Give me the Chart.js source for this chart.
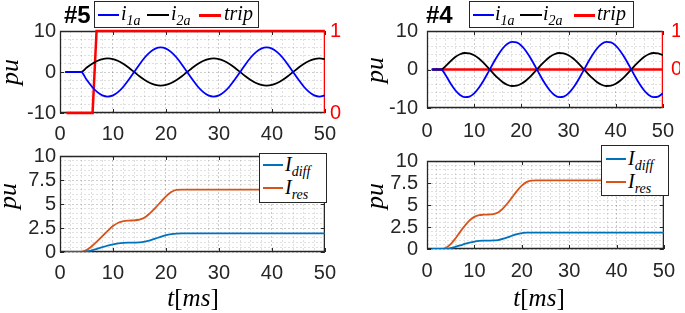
<!DOCTYPE html>
<html>
<head>
<meta charset="utf-8">
<script src="https://cdn.jsdelivr.net/npm/chart.js@4.4.1/dist/chart.umd.min.js"></script>
<style>
  html, body { margin: 0; padding: 0; background: #fff; }
  #fig { position: relative; width: 685px; height: 313px; overflow: hidden; background: #fff; }
  canvas { position: absolute; }
  .txt { position: absolute; white-space: nowrap; color: #000; }
  .math { font-family: "Liberation Serif", "DejaVu Serif", serif; font-style: italic; }
  .rm { font-style: normal; }
  .sub { font-size: 14px; position: relative; top: 5px; }
  .tag { font-family: "Liberation Sans", Arial, sans-serif; font-weight: bold; font-size: 24px; line-height: 24px; }
  .ylab { width: 40px; height: 28px; line-height: 28px; text-align: center; font-size: 26px; transform: rotate(-90deg); }
  .xlab { width: 90px; height: 28px; line-height: 28px; text-align: center; font-size: 25px; }
  .leg { position: absolute; background: #fff; border: 1px solid #262626; box-sizing: border-box; }
  .leg .ln { position: absolute; height: 2px; }
  .leg .lt { position: absolute; font-size: 20px; line-height: 20px; }
</style>
</head>
<body>
<div id="fig">
  <canvas id="cTL" width="345" height="140" style="left:0;top:0"></canvas>
  <canvas id="cTR" width="340" height="140" style="left:345px;top:0"></canvas>
  <canvas id="cBL" width="345" height="173" style="left:0;top:140px"></canvas>
  <canvas id="cBR" width="340" height="173" style="left:345px;top:140px"></canvas>

  <div class="txt tag" style="left:64px;top:3px">#5</div>
  <div class="txt tag" style="left:426px;top:3px">#4</div>

  <div class="leg" style="left:94px;top:1px;width:165px;height:27px">
    <div class="ln" style="left:3px;top:12px;width:21px;background:#0000ff"></div>
    <div class="lt math" style="left:26px;top:1px">i<span class="sub">1a</span></div>
    <div class="ln" style="left:52px;top:12px;width:22px;background:#000"></div>
    <div class="lt math" style="left:76px;top:1px">i<span class="sub">2a</span></div>
    <div class="ln" style="left:104px;top:12px;width:22px;height:3px;background:#ff0000"></div>
    <div class="lt math" style="left:129px;top:1px">trip</div>
  </div>
  <div class="leg" style="left:469px;top:1px;width:165px;height:27px">
    <div class="ln" style="left:3px;top:12px;width:21px;background:#0000ff"></div>
    <div class="lt math" style="left:25px;top:1px">i<span class="sub">1a</span></div>
    <div class="ln" style="left:50px;top:12px;width:22px;background:#000"></div>
    <div class="lt math" style="left:73px;top:1px">i<span class="sub">2a</span></div>
    <div class="ln" style="left:104px;top:12px;width:21px;height:3px;background:#ff0000"></div>
    <div class="lt math" style="left:127px;top:1px">trip</div>
  </div>

  <div class="leg" style="left:259px;top:153px;width:68px;height:50px">
    <div class="ln" style="left:3px;top:10px;width:20px;background:#0072bd"></div>
    <div class="lt math" style="left:25px;top:0px">I<span class="sub">diff</span></div>
    <div class="ln" style="left:3px;top:33px;width:20px;background:#d95319"></div>
    <div class="lt math" style="left:25px;top:23px">I<span class="sub">res</span></div>
  </div>
  <div class="leg" style="left:601px;top:145px;width:68px;height:51px">
    <div class="ln" style="left:4px;top:12px;width:20px;background:#0072bd"></div>
    <div class="lt math" style="left:26px;top:2px">I<span class="sub">diff</span></div>
    <div class="ln" style="left:4px;top:35px;width:20px;background:#d95319"></div>
    <div class="lt math" style="left:26px;top:25px">I<span class="sub">res</span></div>
  </div>

  <div class="txt math ylab" style="left:-10px;top:58px">pu</div>
  <div class="txt math ylab" style="left:-12px;top:182px">pu</div>
  <div class="txt math ylab" style="left:355px;top:56px">pu</div>
  <div class="txt math ylab" style="left:355px;top:182px">pu</div>

  <div class="txt math xlab" style="left:148px;top:284px">t<span class="rm">[</span>ms<span class="rm">]</span></div>
  <div class="txt math xlab" style="left:494px;top:284px">t<span class="rm">[</span>ms<span class="rm">]</span></div>
</div>

<script>
// time axis [ms]
const tms = [1,2,3,4,5,6,7,8,9,10,11,12,13,14,15,16,17,18,19,20,21,22,23,24,25,
  26,27,28,29,30,31,32,33,34,35,36,37,38,39,40,41,42,43,44,45,46,47,48,49,50];

// case #5 currents
const i1a5 = [0,0,0,0,-1.85,-3.53,-4.85,-5.71,-6.0,-5.71,-4.85,-3.53,-1.85,0,
  1.85,3.53,4.85,5.71,6.0,5.71,4.85,3.53,1.85,0,
  -1.85,-3.53,-4.85,-5.71,-6.0,-5.71,-4.85,-3.53,-1.85,0,
  1.85,3.53,4.85,5.71,6.0,5.71,4.85,3.53,1.85,0,
  -1.85,-3.53,-4.85,-5.71,-6.0,-5.71];
const i2a5 = [0,0,0,0,1.02,1.94,2.67,3.14,3.3,3.14,2.67,1.94,1.02,0,
  -1.02,-1.94,-2.67,-3.14,-3.3,-3.14,-2.67,-1.94,-1.02,0,
  1.02,1.94,2.67,3.14,3.3,3.14,2.67,1.94,1.02,0,
  -1.02,-1.94,-2.67,-3.14,-3.3,-3.14,-2.67,-1.94,-1.02,0,
  1.02,1.94,2.67,3.14,3.3,3.14];
const trip5T = [1.2, 6.15, 6.9, 50];
const trip5 = [0, 0, 1, 1];

// case #4 currents
const i1a4 = [0,0,0,-1.57,-3.66,-5.40,-6.61,-7.17,-7.03,-6.20,-4.76,-2.86,-0.68,
  1.57,3.66,5.40,6.61,7.17,7.03,6.20,4.76,2.86,0.68,
  -1.57,-3.66,-5.40,-6.61,-7.17,-7.03,-6.20,-4.76,-2.86,-0.68,
  1.57,3.66,5.40,6.61,7.17,7.03,6.20,4.76,2.86,0.68,
  -1.57,-3.66,-5.40,-6.61,-7.17,-7.03,-6.20];
const i2a4 = [0,0,0,0.94,2.19,3.23,3.95,4.28,4.20,3.70,2.84,1.71,0.40,
  -0.94,-2.19,-3.23,-3.95,-4.28,-4.20,-3.70,-2.84,-1.71,-0.40,
  0.94,2.19,3.23,3.95,4.28,4.20,3.70,2.84,1.71,0.40,
  -0.94,-2.19,-3.23,-3.95,-4.28,-4.20,-3.70,-2.84,-1.71,-0.40,
  0.94,2.19,3.23,3.95,4.28,4.20,3.70];
const trip4T = [1.2, 50];
const trip4 = [0, 0];

// differential / restraint currents
const idiff5 = [0,0,0,0,0.06,0.18,0.33,0.5,0.66,0.8,0.9,0.95,0.97,0.98,1.0,
  1.08,1.22,1.4,1.58,1.75,1.86,1.92,1.93,1.93,1.93,1.93,1.93,1.93,1.93,1.93,
  1.93,1.93,1.93,1.93,1.93,1.93,1.93,1.93,1.93,1.93,1.93,1.93,1.93,1.93,1.93,
  1.93,1.93,1.93,1.93,1.93];
const ires5 = [0,0,0,0.02,0.2,0.6,1.1,1.65,2.2,2.7,3.05,3.22,3.27,3.3,3.38,
  3.6,4.05,4.6,5.2,5.8,6.25,6.48,6.5,6.5,6.5,6.5,6.5,6.5,6.5,6.5,
  6.5,6.5,6.5,6.5,6.5,6.5,6.5,6.5,6.5,6.5,6.5,6.5,6.5,6.5,6.5,
  6.5,6.5,6.5,6.5,6.5];
const idiff4 = [0,0,0,0.02,0.1,0.24,0.4,0.57,0.72,0.84,0.92,0.95,0.96,0.97,1.02,
  1.14,1.32,1.52,1.69,1.8,1.85,1.86,1.86,1.86,1.86,1.86,1.86,1.86,1.86,1.86,
  1.86,1.86,1.86,1.86,1.86,1.86,1.86,1.86,1.86,1.86,1.86,1.86,1.86,1.86,1.86,
  1.86,1.86,1.86,1.86,1.86];
const ires4 = [0,0,0,0.15,0.55,1.2,1.95,2.65,3.25,3.65,3.85,3.9,3.92,3.96,4.15,
  4.6,5.2,5.9,6.6,7.2,7.6,7.78,7.8,7.8,7.8,7.8,7.8,7.8,7.8,7.8,
  7.8,7.8,7.8,7.8,7.8,7.8,7.8,7.8,7.8,7.8,7.8,7.8,7.8,7.8,7.8,
  7.8,7.8,7.8,7.8,7.8];

// tick labels
const xLabels = [0, 10, 20, 30, 40, 50];
const yTopLabels = [-10, 0, 10];
const yBotLabels = [0, 2.5, 5, 7.5, 10];

Chart.defaults.font.family = '"Liberation Sans", Arial, sans-serif';
Chart.defaults.animation = false;

const tickFont = { size: 20 };
const tickColor = '#262626';
const majorGrid = 'rgba(0,0,0,0.2)';
const minorGrid = 'rgba(0,0,0,0.12)';

const pts = (xs, ys) => xs.map((x, i) => ({ x: x, y: ys[i] }));
const has = (arr, v) => arr.some(a => Math.abs(a - v) < 1e-6);

// axes box with inward major ticks
const boxPlugin = {
  id: 'box',
  beforeDatasetsDraw(chart, args, opts) {
    const { ctx, chartArea: a, scales } = chart;
    ctx.save();
    ctx.lineWidth = 1;
    ctx.strokeStyle = '#262626';
    ctx.beginPath();
    scales.x.ticks.forEach(t => {
      if (!has(xLabels, t.value)) return;
      const px = Math.round(scales.x.getPixelForValue(t.value)) + 0.5;
      ctx.moveTo(px, a.bottom); ctx.lineTo(px, a.bottom - 4);
      ctx.moveTo(px, a.top); ctx.lineTo(px, a.top + 4);
    });
    scales.y.ticks.forEach(t => {
      if (!has(opts.yLabels, t.value)) return;
      const py = Math.round(scales.y.getPixelForValue(t.value)) + 0.5;
      ctx.moveTo(a.left, py); ctx.lineTo(a.left + 4, py);
      if (!opts.rightColor) { ctx.moveTo(a.right, py); ctx.lineTo(a.right - 4, py); }
    });
    ctx.stroke();
    ctx.lineWidth = 1.3;
    ctx.beginPath();
    ctx.moveTo(a.right, a.top + 0.5);
    ctx.lineTo(a.left + 0.5, a.top + 0.5);
    ctx.lineTo(a.left + 0.5, a.bottom - 0.5);
    ctx.lineTo(a.right, a.bottom - 0.5);
    ctx.stroke();
    ctx.strokeStyle = opts.rightColor || '#262626';
    ctx.beginPath();
    ctx.moveTo(a.right - 0.5, a.top);
    ctx.lineTo(a.right - 0.5, a.bottom);
    ctx.stroke();
    ctx.restore();
  }
};

function xAxis(h, pad) {
  return {
    type: 'linear', min: 0, max: 50,
    afterFit: s => { s.height = h; },
    ticks: {
      stepSize: 2, autoSkip: false, maxRotation: 0, padding: pad,
      color: tickColor, font: tickFont,
      callback: v => has(xLabels, v) ? String(v) : ''
    },
    grid: { drawTicks: false, color: c => has(xLabels, c.tick.value) ? majorGrid : minorGrid },
    border: { display: false, dash: [2, 2] }
  };
}

function yAxis(w, pad, min, max, step, labels) {
  return {
    type: 'linear', position: 'left', min: min, max: max,
    afterFit: s => { s.width = w; },
    ticks: {
      stepSize: step, autoSkip: false, padding: pad,
      color: tickColor, font: tickFont,
      callback: v => has(labels, v) ? String(v) : ''
    },
    grid: { drawTicks: false, color: c => has(labels, c.tick.value) ? majorGrid : minorGrid },
    border: { display: false, dash: [2, 2] }
  };
}

function tripAxis(w, pad, min) {
  return {
    type: 'linear', position: 'right', min: min, max: 1,
    afterFit: s => { s.width = w; },
    afterBuildTicks: s => { s.ticks = [{ value: 0 }, { value: 1 }]; },
    ticks: { padding: pad, color: '#ff0000', font: tickFont },
    grid: { drawOnChartArea: false, drawTicks: false },
    border: { display: false }
  };
}

const lineDs = (label, xs, ys, color, extra) => Object.assign({
  label: label, data: pts(xs, ys), borderColor: color, backgroundColor: color,
  borderWidth: 1.8, pointRadius: 0, fill: false, cubicInterpolationMode: 'monotone'
}, extra || {});

function make(id, datasets, scales, padding, boxOpts) {
  return new Chart(document.getElementById(id), {
    type: 'line',
    data: { datasets: datasets },
    options: {
      responsive: false,
      events: [],
      layout: { padding: padding },
      scales: scales,
      plugins: { legend: { display: false }, tooltip: { enabled: false }, box: boxOpts }
    },
    plugins: [boxPlugin]
  });
}

make('cTL', [
  lineDs('i1a', tms, i1a5, '#0000ff'),
  lineDs('i2a', tms, i2a5, '#000000'),
  lineDs('trip', trip5T, trip5, '#ff0000', { yAxisID: 'y1', borderWidth: 2.5, cubicInterpolationMode: 'default', tension: 0, clip: 3 })
], {
  x: xAxis(27, 9),
  y: yAxis(60, 4, -10, 10, 2, yTopLabels),
  y1: tripAxis(17, 5, 0)
}, { top: 31, left: 0, right: 0, bottom: 0 }, { yLabels: yTopLabels, rightColor: '#ff0000' });

make('cTR', [
  lineDs('i1a', tms, i1a4, '#0000ff'),
  lineDs('i2a', tms, i2a4, '#000000'),
  lineDs('trip', trip4T, trip4, '#ff0000', { yAxisID: 'y1', borderWidth: 2.5, cubicInterpolationMode: 'default', tension: 0, clip: 3 })
], {
  x: xAxis(32, 11),
  y: yAxis(82, 9, -10, 10, 2, yTopLabels),
  y1: tripAxis(17, 8, -1)
}, { top: 31, left: 0, right: 0, bottom: 0 }, { yLabels: yTopLabels, rightColor: '#ff0000' });

make('cBL', [
  lineDs('Idiff', tms, idiff5, '#0072bd'),
  lineDs('Ires', tms, ires5, '#d95319')
], {
  x: xAxis(61, 9),
  y: yAxis(60, 4, 0, 10, 0.5, yBotLabels)
}, { top: 13, left: 0, right: 17, bottom: 0 }, { yLabels: yBotLabels });

make('cBR', [
  lineDs('Idiff', tms, idiff4, '#0072bd'),
  lineDs('Ires', tms, ires4, '#d95319')
], {
  x: xAxis(64, 10),
  y: yAxis(82, 9, 0, 10, 0.5, yBotLabels)
}, { top: 5, left: 0, right: 16, bottom: 0 }, { yLabels: yBotLabels });
</script>
</body>
</html>
